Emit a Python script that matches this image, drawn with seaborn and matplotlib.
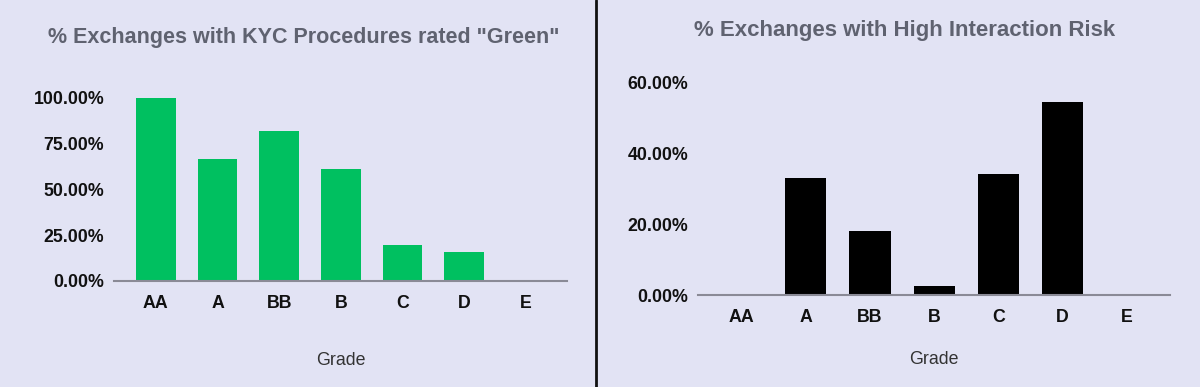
import matplotlib
matplotlib.use("Agg")
import matplotlib.pyplot as plt
from matplotlib.lines import Line2D
from matplotlib.ticker import FuncFormatter
import seaborn as sns
import pandas as pd

grades = ["AA", "A", "BB", "B", "C", "D", "E"]
kyc_green = [100.0, 66.5, 81.7, 61.0, 19.6, 15.6, 0.0]
high_risk = [0.0, 33.1, 18.1, 2.7, 34.3, 54.5, 0.0]
left_title = '% Exchanges with KYC Procedures rated "Green"'
right_title = "% Exchanges with High Interaction Risk"
x_label = "Grade"
left_ticks = [0, 25, 50, 75, 100]
right_ticks = [0, 20, 40, 60]

BG = "#e2e3f4"
sns.set_theme(style="white", rc={"axes.facecolor": BG, "figure.facecolor": BG})
plt.rcParams["font.family"] = ["Liberation Sans", "DejaVu Sans"]

fig = plt.figure(figsize=(12, 3.87), dpi=100)
fig.patch.set_facecolor(BG)

df_l = pd.DataFrame({"Grade": grades, "Value": kyc_green})
df_r = pd.DataFrame({"Grade": grades, "Value": high_risk})

ax1 = fig.add_axes([0.095, 0.274, 0.3775, 0.473])
ax2 = fig.add_axes([0.5817, 0.237, 0.393, 0.550])

specs = [
    (ax1, df_l, "#00c060", left_ticks, (0, 100), left_title, (0.2535, 0.902), -0.432, 15.5),
    (ax2, df_r, "#000000", right_ticks, (0, 60), right_title, (0.7535, 0.922), -0.30, 16.0),
]

fmt = FuncFormatter(lambda v, p: f"{v:.2f}%")
for ax, df, col, ticks, ylim, title, tpos, lab_y, tsize in specs:
    sns.barplot(data=df, x="Grade", y="Value", color=col, width=0.64,
                saturation=1, ax=ax, order=grades, linewidth=0, edgecolor=col)
    ax.set_facecolor(BG)
    ax.set_xlim(-0.68, 6.67)
    ax.set_ylim(*ylim)
    ax.set_yticks(ticks)
    ax.yaxis.set_major_formatter(fmt)
    for s in ["top", "right", "left"]:
        ax.spines[s].set_visible(False)
    ax.spines["bottom"].set_color("#8a8a96")
    ax.spines["bottom"].set_linewidth(1.5)
    ax.tick_params(axis="y", length=0, pad=7, labelsize=12.8, labelcolor="#111111")
    ax.tick_params(axis="x", length=0, pad=10, labelsize=12.8, labelcolor="#111111")
    for lbl in ax.get_xticklabels() + ax.get_yticklabels():
        lbl.set_fontweight("bold")
    ax.set_xlabel(x_label, fontsize=12.8, color="#333333")
    ax.xaxis.label.set_va("center")
    ax.xaxis.set_label_coords(0.5, lab_y)
    ax.set_ylabel("")
    fig.text(tpos[0], tpos[1], title, ha="center", va="center",
             fontsize=tsize, fontweight="bold", color="#5f6270")

fig.add_artist(Line2D([0.4967, 0.4967], [0, 1], transform=fig.transFigure,
                      color="#111111", linewidth=2))

fig.savefig("out.png", dpi=100, facecolor=BG)
